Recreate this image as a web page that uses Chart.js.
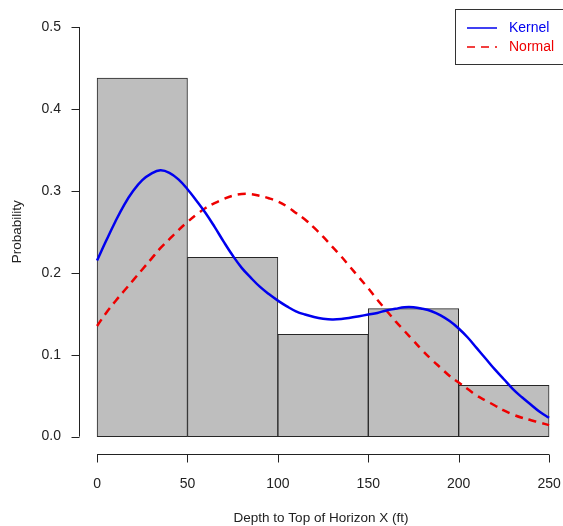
<!DOCTYPE html>
<html>
<head>
<meta charset="utf-8">
<script src="https://cdn.jsdelivr.net/npm/chart.js@4"></script>
<style>
  html, body { margin: 0; padding: 0; background: #fff; overflow: hidden; }
  #wrap { width: 563px; height: 526px; }
</style>
</head>
<body>
<div id="wrap"><canvas id="hist"></canvas></div>
<script>
// histogram bins and relative frequencies
const binEdges = [0, 50, 100, 150, 200, 250];
const binProb = [0.4375, 0.21875, 0.125, 0.15625, 0.0625];

// curves every 5 ft
const curveX  = [0, 5, 10, 15, 20, 25, 30, 35, 40, 45, 50, 55, 60, 65, 70, 75, 80, 85, 90, 95,
                 100, 105, 110, 115, 120, 125, 130, 135, 140, 145, 150, 155, 160, 165, 170, 175, 180, 185, 190, 195,
                 200, 205, 210, 215, 220, 225, 230, 235, 240, 245, 250];
const kernelY = [0.215, 0.239, 0.262, 0.283, 0.300, 0.313, 0.321, 0.325, 0.322, 0.314, 0.302, 0.288, 0.273, 0.256, 0.238, 0.221, 0.206, 0.194, 0.183, 0.174,
                 0.166, 0.159, 0.153, 0.149, 0.146, 0.144, 0.143, 0.1435, 0.145, 0.147, 0.149, 0.151, 0.154, 0.156, 0.158, 0.158, 0.156, 0.153, 0.148, 0.141,
                 0.132, 0.121, 0.108, 0.095, 0.082, 0.070, 0.058, 0.048, 0.039, 0.030, 0.023];
const normalY = [0.135, 0.151, 0.165, 0.178, 0.191, 0.204, 0.217, 0.230, 0.241, 0.252, 0.262, 0.271, 0.279, 0.285, 0.290, 0.294, 0.296, 0.296, 0.294, 0.291,
                 0.287, 0.281, 0.273, 0.265, 0.255, 0.244, 0.232, 0.220, 0.207, 0.194, 0.181, 0.167, 0.154, 0.141, 0.129, 0.117, 0.105, 0.094, 0.084, 0.074,
                 0.066, 0.058, 0.050, 0.044, 0.038, 0.032, 0.027, 0.023, 0.020, 0.017, 0.014];

const xTicks = [0, 50, 100, 150, 200, 250];
const yTicks = [0, 0.1, 0.2, 0.3, 0.4, 0.5];

const ink = '#222';
const font = { family: 'Liberation Sans, Arial, sans-serif', size: 14 };

const bars = binProb.map((p, i) => ({ x: (binEdges[i] + binEdges[i + 1]) / 2, y: p }));

// R style axes: lines only over the tick range
const rAxes = {
  id: 'rAxes',
  afterDraw(chart) {
    const { ctx, chartArea } = chart;
    const xs = chart.scales.x, ys = chart.scales.y;
    ctx.save();
    ctx.strokeStyle = ink;
    ctx.lineWidth = 1;
    ctx.beginPath();
    const yb = Math.round(chartArea.bottom) + 1.5;
    ctx.moveTo(xs.getPixelForValue(xTicks[0]), yb);
    ctx.lineTo(xs.getPixelForValue(xTicks[xTicks.length - 1]), yb);
    xTicks.forEach(v => {
      const px = Math.round(xs.getPixelForValue(v)) + 0.5;
      ctx.moveTo(px, yb);
      ctx.lineTo(px, yb + 8);
    });
    const xl = Math.round(chartArea.left) + 0.5;
    ctx.moveTo(xl, ys.getPixelForValue(yTicks[0]));
    ctx.lineTo(xl, ys.getPixelForValue(yTicks[yTicks.length - 1]));
    yTicks.forEach(v => {
      const py = Math.round(ys.getPixelForValue(v)) + 0.5;
      ctx.moveTo(xl, py);
      ctx.lineTo(xl - 8, py);
    });
    ctx.stroke();

    // legend box in the top right corner
    const lx = 455.5, ly = 9.5;
    ctx.strokeStyle = '#333';
    ctx.strokeRect(lx, ly, 200, 55);
    ctx.font = '14px ' + font.family;
    ctx.textBaseline = 'middle';
    chart.data.datasets.slice(1).forEach((ds, i) => {
      const y = 28 + i * 19;
      ctx.strokeStyle = ds.borderColor;
      ctx.lineWidth = 1.5;
      ctx.setLineDash(ds.borderDash || []);
      ctx.beginPath();
      ctx.moveTo(467, y);
      ctx.lineTo(497, y);
      ctx.stroke();
      ctx.setLineDash([]);
      ctx.fillStyle = ds.borderColor;
      ctx.fillText(ds.label, 509, y);
    });
    ctx.restore();
  }
};

new Chart(document.getElementById('hist'), {
  type: 'bar',
  data: {
    datasets: [
      {
        label: 'Histogram',
        data: bars,
        backgroundColor: '#bebebe',
        borderColor: '#262626',
        borderWidth: 1,
        borderSkipped: false,
        barPercentage: 1,
        categoryPercentage: 1,
        order: 3
      },
      {
        label: 'Kernel',
        type: 'line',
        data: curveX.map((x, i) => ({ x: x, y: kernelY[i] })),
        borderColor: '#0000ee',
        borderWidth: 2.5,
        pointRadius: 0,
        tension: 0.4,
        order: 1
      },
      {
        label: 'Normal',
        type: 'line',
        data: curveX.map((x, i) => ({ x: x, y: normalY[i] })),
        borderColor: '#ee0000',
        borderWidth: 2.5,
        borderDash: [8, 6],
        pointRadius: 0,
        tension: 0.4,
        order: 2
      }
    ]
  },
  options: {
    responsive: true,
    maintainAspectRatio: false,
    animation: false,
    layout: { padding: { top: 10.6, right: 0, left: 0, bottom: 0 } },
    plugins: {
      legend: { display: false },
      tooltip: { enabled: false }
    },
    scales: {
      x: {
        type: 'linear',
        offset: false,
        min: -10,
        max: 257.7,
        grid: { display: false, drawTicks: true, tickLength: 23 },
        border: { display: false },
        afterBuildTicks: s => { s.ticks = xTicks.map(v => ({ value: v })); },
        afterFit: s => { s.height = 73; },
        ticks: { color: ink, font: font, padding: 0, maxRotation: 0, autoSkip: false, callback: v => String(v) },
        title: { display: true, text: 'Depth to Top of Horizon X (ft)', color: ink, font: { family: font.family, size: 13.5 }, padding: 0 }
      },
      y: {
        min: -0.02,
        max: 0.52,
        grid: { display: false, drawTicks: true, tickLength: 18 },
        border: { display: false },
        afterBuildTicks: s => { s.ticks = yTicks.map(v => ({ value: v })); },
        afterFit: s => { s.width = 79; },
        ticks: { color: ink, font: font, padding: 0, autoSkip: false, callback: v => v.toFixed(1) },
        title: { display: true, text: 'Probability', color: ink, font: { family: font.family, size: 13.5 }, padding: 9 }
      }
    }
  },
  plugins: [rAxes]
});
</script>
</body>
</html>
